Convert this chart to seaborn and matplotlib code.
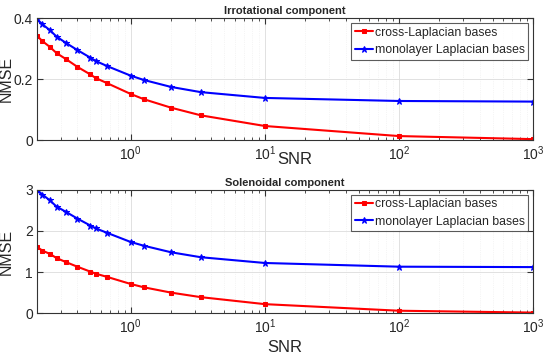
import matplotlib
matplotlib.use("Agg")
import matplotlib.pyplot as plt
import numpy as np
import pandas as pd
import seaborn as sns

# values
snr = [0.2, 0.22, 0.25, 0.28, 0.33, 0.4, 0.5, 0.55, 0.67, 1, 1.25, 2, 3.33, 10, 100, 1000]

irr_cross = [0.342, 0.324, 0.305, 0.285, 0.265, 0.240, 0.215, 0.203, 0.186,
             0.151, 0.134, 0.106, 0.081, 0.046, 0.013, 0.003]
irr_mono = [0.397, 0.379, 0.360, 0.339, 0.318, 0.295, 0.270, 0.259, 0.242,
            0.211, 0.197, 0.174, 0.157, 0.138, 0.128, 0.126]

sol_cross = [1.61, 1.52, 1.44, 1.34, 1.24, 1.13, 1.01, 0.96, 0.88,
             0.71, 0.63, 0.50, 0.39, 0.22, 0.06, 0.015]
sol_mono = [3.00, 2.88, 2.74, 2.59, 2.46, 2.30, 2.13, 2.06, 1.95,
            1.73, 1.64, 1.48, 1.36, 1.22, 1.13, 1.12]

titles = ["Irrotational component", "Solenoidal component"]
labels = ["cross-Laplacian bases", "monolayer Laplacian bases"]
yticks = [[0, 0.2, 0.4], [0, 1, 2, 3]]
yticklabels = [["0", "0.2", "0.4"], ["0", "1", "2", "3"]]
ylims = [(0, 0.4), (0, 3)]

sns.set_style("ticks")
plt.rcParams['font.family'] = ['Liberation Sans', 'DejaVu Sans']
plt.rcParams['mathtext.fontset'] = 'custom'
plt.rcParams['mathtext.rm'] = 'Liberation Sans'
plt.rcParams['mathtext.it'] = 'Liberation Sans'

fig = plt.figure(figsize=(5.43, 3.6), dpi=100)
ax1 = fig.add_axes([0.068, 0.611, 0.914, 0.339])
ax2 = fig.add_axes([0.068, 0.130, 0.914, 0.343])

panels = [(ax1, irr_cross, irr_mono), (ax2, sol_cross, sol_mono)]
for i, (ax, cross, mono) in enumerate(panels):
    df = pd.DataFrame({"SNR": snr, "cross": cross, "mono": mono})
    sns.lineplot(data=df, x="SNR", y="cross", ax=ax, color="#ff0000", marker="s",
                 markersize=3.5, markeredgecolor="#ff0000", linewidth=1.5, label=labels[0])
    sns.lineplot(data=df, x="SNR", y="mono", ax=ax, color="#0000ff", marker="*",
                 markersize=4.5, markeredgecolor="#0000ff", linewidth=1.5, label=labels[1])
    ax.set_xscale("log")
    ax.set_xlim(0.2, 1000)
    ax.set_ylim(*ylims[i])
    ax.set_yticks(yticks[i])
    ax.set_yticklabels(yticklabels[i])
    ax.set_xticks([1, 10, 100, 1000])
    ax.set_xticklabels(["$\\mathregular{10^0}$", "$\\mathregular{10^1}$",
                        "$\\mathregular{10^2}$", "$\\mathregular{10^3}$"])
    ax.grid(True, which="major", color="#dcdcdc", linewidth=0.6)
    ax.grid(True, which="minor", axis="x", color="#ececec", linewidth=0.5, linestyle=":")
    ax.tick_params(which="both", direction="in", top=True, right=True, labelsize=10,
                   color="#333333", labelcolor="#262626")
    ax.tick_params(which="minor", length=2.5)
    ax.tick_params(which="major", length=4, pad=3)
    for s in ax.spines.values():
        s.set_color("#333333")
        s.set_linewidth(0.8)
    ax.set_title(titles[i], fontsize=8, fontweight="bold", pad=3)
    ax.set_ylabel("NMSE", fontsize=11.5, color="#262626")
    ax.yaxis.set_label_coords(-0.046, 0.5)
    leg = ax.legend(loc="upper right", fontsize=8.8, frameon=True, fancybox=False,
                    handlelength=1.5, handletextpad=0.15, borderpad=0.3,
                    labelspacing=0.45, borderaxespad=0.4)
    leg.get_frame().set_edgecolor("#333333")
    leg.get_frame().set_linewidth(0.8)

ax1.set_xlabel("SNR", fontsize=12, color="#262626")
ax1.xaxis.set_label_coords(0.52, -0.1)
ax1.xaxis.label.set_va("top")
ax2.set_xlabel("SNR", fontsize=12, labelpad=3, color="#262626")

fig.savefig("out.png", dpi=100)
